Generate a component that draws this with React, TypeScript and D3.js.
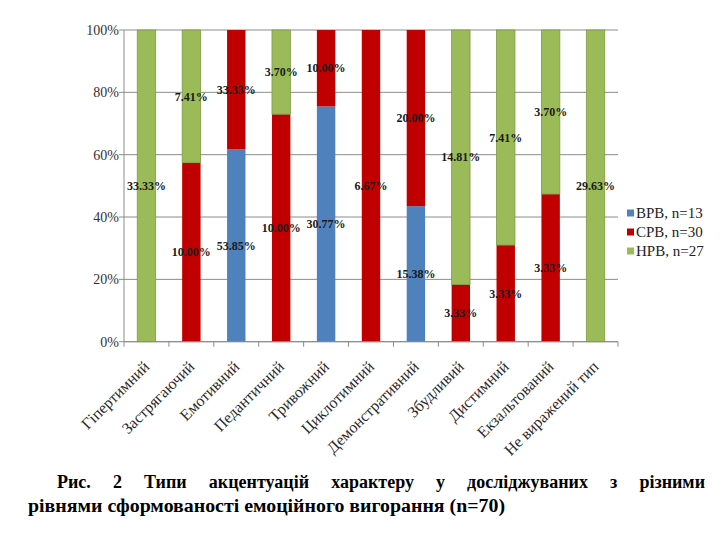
import React, { useEffect, useRef } from "react";
import * as d3 from "d3";

const categories = [
  "Гіпертимний",
  "Застрягаючий",
  "Емотивний",
  "Педантичний",
  "Тривожний",
  "Циклотимний",
  "Демонстративний",
  "Збудливий",
  "Дистимний",
  "Екзальтований",
  "Не виражений тип",
];
const vrv = [0, 0, 53.85, 0, 30.77, 0, 15.38, 0, 0, 0, 0];
const srv = [0, 10.0, 33.33, 10.0, 10.0, 6.67, 20.0, 3.33, 3.33, 3.33, 0];
const nrv = [33.33, 7.41, 0, 3.7, 0, 0, 0, 14.81, 7.41, 3.7, 29.63];
const seriesKeys = ["vrv", "srv", "nrv"];
const seriesNames = ["ВРВ, n=13", "СРВ, n=30", "НРВ, n=27"];
const seriesColors = ["#4F81BD", "#C00000", "#9BBB59"];
const yTicks = [0, 0.2, 0.4, 0.6, 0.8, 1];
const captionLine1 = "Рис. 2 Типи акцентуацій характеру у досліджуваних з різними";
const captionLine2 = "рівнями сформованості емоційного вигорання (n=70)";

const W = 720;
const H = 540;
const left = 124;
const right = 618;
const top = 30;
const bottom = 341.7;
const serif = "Liberation Serif, DejaVu Serif, serif";

export default function App() {
  const capRef = useRef<SVGTextElement | null>(null);

  useEffect(() => {
    const node = capRef.current;
    if (!node) return;
    const target = 648;
    d3.select(node).attr("word-spacing", 0);
    const natural = node.getComputedTextLength();
    const gaps = captionLine1.split(" ").length - 1;
    d3.select(node).attr("word-spacing", (target - natural) / gaps);
  }, []);

  const rows = categories.map((c, i) => ({ cat: c, vrv: vrv[i], srv: srv[i], nrv: nrv[i] }));
  const stacked = d3.stack<any>().keys(seriesKeys).offset(d3.stackOffsetExpand)(rows);

  const pi = 0.59;
  const x = d3.scaleBand<string>().domain(categories).range([left, right]).paddingInner(pi).paddingOuter(pi / 2);
  const y = d3.scaleLinear().domain([0, 1]).range([bottom, top]);
  const step = x.step();
  const tickXs = d3.range(categories.length + 1).map((i) => left + i * step);

  return (
    <svg width={W} height={H} style={{ position: "absolute", left: 0, top: 0, background: "#fff" }}>
      <rect x={0} y={0} width={W} height={H} fill="#fff" />
      {yTicks.map((t) => (
        <line key={"g" + t} x1={left} x2={right} y1={y(t)} y2={y(t)} stroke="#8c8c8c" strokeWidth={1} />
      ))}
      <line x1={left} x2={left} y1={top} y2={bottom} stroke="#8c8c8c" />
      {yTicks.map((t) => (
        <g key={"yt" + t}>
          <line x1={left - 5} x2={left} y1={y(t)} y2={y(t)} stroke="#8c8c8c" />
          <text x={left - 5} y={y(t)} dy="0.35em" textAnchor="end" style={{ fontFamily: serif }} fontSize={14} fill="#333">
            {d3.format(".0%")(t)}
          </text>
        </g>
      ))}
      {stacked.map((s, si) => (
        <g key={s.key}>
          {s.map((d: any, i: number) => {
            if (d[1] - d[0] <= 0) return null;
            return (
              <rect
                key={i}
                x={x(categories[i])}
                width={x.bandwidth()}
                y={y(d[1])}
                height={y(d[0]) - y(d[1])}
                fill={seriesColors[si]}
                stroke={si === 2 ? "#7f9a45" : "none"}
                strokeWidth={0.8}
              />
            );
          })}
        </g>
      ))}
      <line x1={left} x2={right} y1={bottom} y2={bottom} stroke="#8c8c8c" />
      {tickXs.map((tx, i) => (
        <line key={"xt" + i} x1={tx} x2={tx} y1={bottom} y2={bottom + 5} stroke="#8c8c8c" />
      ))}
      {categories.map((c) => {
        const cx = (x(c) as number) + x.bandwidth() / 2;
        return (
          <text
            key={"xl" + c}
            transform={`translate(${cx},${bottom + 22}) rotate(-45)`}
            textAnchor="end"
            dy="0.35em"
            style={{ fontFamily: serif }}
            fontSize={16}
            fill="#2a2a2a"
          >
            {c}
          </text>
        );
      })}
      {stacked.map((s, si) => (
        <g key={"lab" + s.key}>
          {s.map((d: any, i: number) => {
            const v = (rows[i] as any)[seriesKeys[si]];
            if (!v) return null;
            const cx = (x(categories[i]) as number) + x.bandwidth() / 2;
            return (
              <text
                key={i}
                x={cx}
                y={y((d[0] + d[1]) / 2)}
                dy="0.35em"
                textAnchor="middle"
                style={{ fontFamily: serif }}
                fontWeight="bold"
                fontSize={12}
                fill="#1a1a1a"
              >
                {v.toFixed(2) + "%"}
              </text>
            );
          })}
        </g>
      ))}
      {seriesNames.map((n, i) => (
        <g key={"lg" + i} transform={`translate(627,${213 + i * 19})`}>
          <rect x={0} y={-3.5} width={7} height={7} fill={seriesColors[i]} />
          <text x={9} y={0} dy="0.35em" style={{ fontFamily: serif }} fontSize={15} fill="#222">
            {n}
          </text>
        </g>
      ))}
      <text ref={capRef} x={57} y={488} style={{ fontFamily: serif }} fontWeight="bold" fontSize={18} fill="#000">
        {captionLine1}
      </text>
      <text
        x={28}
        y={512}
        style={{ fontFamily: serif }}
        fontWeight="bold"
        fontSize={18}
        fill="#000"
        textLength={477}
        lengthAdjust="spacingAndGlyphs"
      >
        {captionLine2}
      </text>
    </svg>
  );
}
